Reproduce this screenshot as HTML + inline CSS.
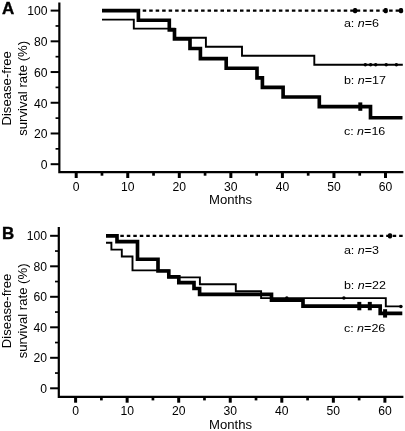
<!DOCTYPE html>
<html><head><meta charset="utf-8"><title>Disease-free survival</title>
<style>
html,body{margin:0;padding:0;background:#fff;}
svg{display:block;will-change:transform;}
text{font-family:"Liberation Sans", Arial, Helvetica, sans-serif;fill:#000;}
</style></head>
<body>
<svg width="405" height="431" viewBox="0 0 405 431">
<rect width="405" height="431" fill="#fff"/>
<g>
<path d="M59.35,2.5V172.1H403.4" fill="none" stroke="#000" stroke-width="2.2" stroke-linejoin="miter"/>
<line x1="50.65" x2="59.35" y1="164.2" y2="164.2" stroke="#000" stroke-width="2.0"/>
<text transform="translate(47.55,169.0) scale(0.99,1)" text-anchor="end" font-size="12.3">0</text>
<line x1="55.55" x2="59.35" y1="148.84" y2="148.84" stroke="#000" stroke-width="1.7"/>
<line x1="50.65" x2="59.35" y1="133.48" y2="133.48" stroke="#000" stroke-width="2.0"/>
<text transform="translate(47.55,138.28) scale(0.99,1)" text-anchor="end" font-size="12.3">20</text>
<line x1="55.55" x2="59.35" y1="118.12" y2="118.12" stroke="#000" stroke-width="1.7"/>
<line x1="50.65" x2="59.35" y1="102.76" y2="102.76" stroke="#000" stroke-width="2.0"/>
<text transform="translate(47.55,107.56) scale(0.99,1)" text-anchor="end" font-size="12.3">40</text>
<line x1="55.55" x2="59.35" y1="87.4" y2="87.4" stroke="#000" stroke-width="1.7"/>
<line x1="50.65" x2="59.35" y1="72.04" y2="72.04" stroke="#000" stroke-width="2.0"/>
<text transform="translate(47.55,76.84) scale(0.99,1)" text-anchor="end" font-size="12.3">60</text>
<line x1="55.55" x2="59.35" y1="56.68" y2="56.68" stroke="#000" stroke-width="1.7"/>
<line x1="50.65" x2="59.35" y1="41.32" y2="41.32" stroke="#000" stroke-width="2.0"/>
<text transform="translate(47.55,46.12) scale(0.99,1)" text-anchor="end" font-size="12.3">80</text>
<line x1="55.55" x2="59.35" y1="25.96" y2="25.96" stroke="#000" stroke-width="1.7"/>
<line x1="50.65" x2="59.35" y1="10.6" y2="10.6" stroke="#000" stroke-width="2.0"/>
<text transform="translate(47.55,15.4) scale(0.99,1)" text-anchor="end" font-size="12.3">100</text>
<line x1="76.2" x2="76.2" y1="172.1" y2="178.00" stroke="#000" stroke-width="3"/>
<text transform="translate(76.2,190.6) scale(0.99,1)" text-anchor="middle" font-size="12.3">0</text>
<line x1="101.98" x2="101.98" y1="172.1" y2="175.70" stroke="#000" stroke-width="2.7"/>
<line x1="127.75" x2="127.75" y1="172.1" y2="178.00" stroke="#000" stroke-width="3"/>
<text transform="translate(127.75,190.6) scale(0.99,1)" text-anchor="middle" font-size="12.3">10</text>
<line x1="153.53" x2="153.53" y1="172.1" y2="175.70" stroke="#000" stroke-width="2.7"/>
<line x1="179.3" x2="179.3" y1="172.1" y2="178.00" stroke="#000" stroke-width="3"/>
<text transform="translate(179.3,190.6) scale(0.99,1)" text-anchor="middle" font-size="12.3">20</text>
<line x1="205.07" x2="205.07" y1="172.1" y2="175.70" stroke="#000" stroke-width="2.7"/>
<line x1="230.85" x2="230.85" y1="172.1" y2="178.00" stroke="#000" stroke-width="3"/>
<text transform="translate(230.85,190.6) scale(0.99,1)" text-anchor="middle" font-size="12.3">30</text>
<line x1="256.62" x2="256.62" y1="172.1" y2="175.70" stroke="#000" stroke-width="2.7"/>
<line x1="282.4" x2="282.4" y1="172.1" y2="178.00" stroke="#000" stroke-width="3"/>
<text transform="translate(282.4,190.6) scale(0.99,1)" text-anchor="middle" font-size="12.3">40</text>
<line x1="308.18" x2="308.18" y1="172.1" y2="175.70" stroke="#000" stroke-width="2.7"/>
<line x1="333.95" x2="333.95" y1="172.1" y2="178.00" stroke="#000" stroke-width="3"/>
<text transform="translate(333.95,190.6) scale(0.99,1)" text-anchor="middle" font-size="12.3">50</text>
<line x1="359.73" x2="359.73" y1="172.1" y2="175.70" stroke="#000" stroke-width="2.7"/>
<line x1="385.5" x2="385.5" y1="172.1" y2="178.00" stroke="#000" stroke-width="3"/>
<text transform="translate(385.5,190.6) scale(0.99,1)" text-anchor="middle" font-size="12.3">60</text>
<text transform="translate(230.5,204.3) scale(1.095,1)" text-anchor="middle" font-size="12">Months</text>
<text transform="translate(10.6,88.3) rotate(-90) scale(1.095,1)" text-anchor="middle" font-size="12">Disease-free</text>
<text transform="translate(26.6,88.3) rotate(-90) scale(1.095,1)" text-anchor="middle" font-size="12">survival rate (%)</text>
<text transform="translate(1.9,13.7) scale(1.06,1)" font-size="16" font-weight="bold" stroke="#000" stroke-width="0.35">A</text>
<line x1="102" x2="402.8" y1="10.6" y2="10.6" stroke="#000" stroke-width="2.2" stroke-dasharray="3.5 2.985" stroke-dashoffset="-1.8"/>
<rect x="352.95" y="8.00" width="4.3" height="5.2" rx="1.7" ry="1.9"/>
<rect x="383.55" y="8.00" width="4.3" height="5.2" rx="1.7" ry="1.9"/>
<rect x="398.85" y="8.00" width="4.3" height="5.2" rx="1.7" ry="1.9"/>
<path d="M102,19.63H133.8V28.66H174.5V37.71H205.9V46.74H242.0V55.77H314.3V64.81H402.8" fill="none" stroke="#000" stroke-width="1.9"/>
<circle cx="365.3" cy="64.81" r="1.75"/>
<circle cx="370.6" cy="64.81" r="1.75"/>
<circle cx="375.7" cy="64.81" r="1.75"/>
<circle cx="386.2" cy="64.81" r="1.75"/>
<circle cx="396.4" cy="64.81" r="1.75"/>
<path d="M102,10.6H138.4V20.2H169.3V29.8H174.5V38.8H190.0V48.5H200.4V58.6H226.2V68.2H257.0V77.8H262.4V87.4H283.1V97.0H319.3V106.6H370.5V117.7H402.5" fill="none" stroke="#000" stroke-width="3.65"/>
<line x1="360.3" x2="360.3" y1="102.39999999999999" y2="110.8" stroke="#000" stroke-width="4"/>
<text transform="translate(343.9,26.7) scale(1.08,1)" text-anchor="start" font-size="11.6">a: <tspan font-style="italic">n</tspan>=6</text>
<text transform="translate(343.9,84.1) scale(1.08,1)" text-anchor="start" font-size="11.6">b: <tspan font-style="italic">n</tspan>=17</text>
<text transform="translate(343.9,134.6) scale(1.08,1)" text-anchor="start" font-size="11.6">c: <tspan font-style="italic">n</tspan>=16</text>
</g>
<g>
<path d="M58.8,227.1V396.8H403.4" fill="none" stroke="#000" stroke-width="2.2" stroke-linejoin="miter"/>
<line x1="50.10" x2="58.8" y1="388.3" y2="388.3" stroke="#000" stroke-width="2.0"/>
<text transform="translate(47.0,392.7) scale(0.99,1)" text-anchor="end" font-size="12.3">0</text>
<line x1="55.00" x2="58.8" y1="373.05" y2="373.05" stroke="#000" stroke-width="1.7"/>
<line x1="50.10" x2="58.8" y1="357.8" y2="357.8" stroke="#000" stroke-width="2.0"/>
<text transform="translate(47.0,362.2) scale(0.99,1)" text-anchor="end" font-size="12.3">20</text>
<line x1="55.00" x2="58.8" y1="342.55" y2="342.55" stroke="#000" stroke-width="1.7"/>
<line x1="50.10" x2="58.8" y1="327.3" y2="327.3" stroke="#000" stroke-width="2.0"/>
<text transform="translate(47.0,331.7) scale(0.99,1)" text-anchor="end" font-size="12.3">40</text>
<line x1="55.00" x2="58.8" y1="312.05" y2="312.05" stroke="#000" stroke-width="1.7"/>
<line x1="50.10" x2="58.8" y1="296.8" y2="296.8" stroke="#000" stroke-width="2.0"/>
<text transform="translate(47.0,301.2) scale(0.99,1)" text-anchor="end" font-size="12.3">60</text>
<line x1="55.00" x2="58.8" y1="281.55" y2="281.55" stroke="#000" stroke-width="1.7"/>
<line x1="50.10" x2="58.8" y1="266.3" y2="266.3" stroke="#000" stroke-width="2.0"/>
<text transform="translate(47.0,270.7) scale(0.99,1)" text-anchor="end" font-size="12.3">80</text>
<line x1="55.00" x2="58.8" y1="251.05" y2="251.05" stroke="#000" stroke-width="1.7"/>
<line x1="50.10" x2="58.8" y1="235.8" y2="235.8" stroke="#000" stroke-width="2.0"/>
<text transform="translate(47.0,240.2) scale(0.99,1)" text-anchor="end" font-size="12.3">100</text>
<line x1="75.6" x2="75.6" y1="396.8" y2="402.70" stroke="#000" stroke-width="3"/>
<text transform="translate(75.6,415.3) scale(0.99,1)" text-anchor="middle" font-size="12.3">0</text>
<line x1="101.38" x2="101.38" y1="396.8" y2="400.40" stroke="#000" stroke-width="2.7"/>
<line x1="127.15" x2="127.15" y1="396.8" y2="402.70" stroke="#000" stroke-width="3"/>
<text transform="translate(127.15,415.3) scale(0.99,1)" text-anchor="middle" font-size="12.3">10</text>
<line x1="152.93" x2="152.93" y1="396.8" y2="400.40" stroke="#000" stroke-width="2.7"/>
<line x1="178.7" x2="178.7" y1="396.8" y2="402.70" stroke="#000" stroke-width="3"/>
<text transform="translate(178.7,415.3) scale(0.99,1)" text-anchor="middle" font-size="12.3">20</text>
<line x1="204.47" x2="204.47" y1="396.8" y2="400.40" stroke="#000" stroke-width="2.7"/>
<line x1="230.25" x2="230.25" y1="396.8" y2="402.70" stroke="#000" stroke-width="3"/>
<text transform="translate(230.25,415.3) scale(0.99,1)" text-anchor="middle" font-size="12.3">30</text>
<line x1="256.02" x2="256.02" y1="396.8" y2="400.40" stroke="#000" stroke-width="2.7"/>
<line x1="281.8" x2="281.8" y1="396.8" y2="402.70" stroke="#000" stroke-width="3"/>
<text transform="translate(281.8,415.3) scale(0.99,1)" text-anchor="middle" font-size="12.3">40</text>
<line x1="307.58" x2="307.58" y1="396.8" y2="400.40" stroke="#000" stroke-width="2.7"/>
<line x1="333.35" x2="333.35" y1="396.8" y2="402.70" stroke="#000" stroke-width="3"/>
<text transform="translate(333.35,415.3) scale(0.99,1)" text-anchor="middle" font-size="12.3">50</text>
<line x1="359.12" x2="359.12" y1="396.8" y2="400.40" stroke="#000" stroke-width="2.7"/>
<line x1="384.9" x2="384.9" y1="396.8" y2="402.70" stroke="#000" stroke-width="3"/>
<text transform="translate(384.9,415.3) scale(0.99,1)" text-anchor="middle" font-size="12.3">60</text>
<text transform="translate(230.5,429.0) scale(1.095,1)" text-anchor="middle" font-size="12">Months</text>
<text transform="translate(10.6,310.9) rotate(-90) scale(1.095,1)" text-anchor="middle" font-size="12">Disease-free</text>
<text transform="translate(26.6,310.9) rotate(-90) scale(1.095,1)" text-anchor="middle" font-size="12">survival rate (%)</text>
<text transform="translate(1.9,238.8) scale(1.06,1)" font-size="16" font-weight="bold" stroke="#000" stroke-width="0.35">B</text>
<line x1="106" x2="402.8" y1="235.8" y2="235.8" stroke="#000" stroke-width="2.2" stroke-dasharray="3.5 2.985" stroke-dashoffset="-1.35"/>
<rect x="387.85" y="233.20" width="4.3" height="5.2" rx="1.7" ry="1.9"/>
<path d="M106,242.72H111.4V249.65H121.8V256.57H132.5V270.41H168.8V277.34H199.9V284.26H235.8V291.18H261.1V298.1H385.8V306.4H401" fill="none" stroke="#000" stroke-width="1.9"/>
<circle cx="286.8" cy="298.1" r="1.75"/>
<circle cx="343.9" cy="298.1" r="1.75"/>
<circle cx="400.9" cy="306.4" r="1.75"/>
<path d="M106,235.8H117.0V241.66H137.5V259.23H158.0V270.95H168.8V276.8H178.8V282.66H194.0V288.52H199.6V294.38H271.5V300.23H303.0V306.09H380.2V313.3H402.3" fill="none" stroke="#000" stroke-width="3.65"/>
<line x1="359.3" x2="359.3" y1="301.89" y2="310.28999999999996" stroke="#000" stroke-width="4"/>
<line x1="369.8" x2="369.8" y1="301.89" y2="310.28999999999996" stroke="#000" stroke-width="4"/>
<line x1="385.1" x2="385.1" y1="309.2" y2="317.59999999999997" stroke="#000" stroke-width="4"/>
<text transform="translate(343.9,254.2) scale(1.08,1)" text-anchor="start" font-size="11.6">a: <tspan font-style="italic">n</tspan>=3</text>
<text transform="translate(343.9,288.9) scale(1.08,1)" text-anchor="start" font-size="11.6">b: <tspan font-style="italic">n</tspan>=22</text>
<text transform="translate(343.9,331.6) scale(1.08,1)" text-anchor="start" font-size="11.6">c: <tspan font-style="italic">n</tspan>=26</text>
</g>
</svg>
</body></html>
